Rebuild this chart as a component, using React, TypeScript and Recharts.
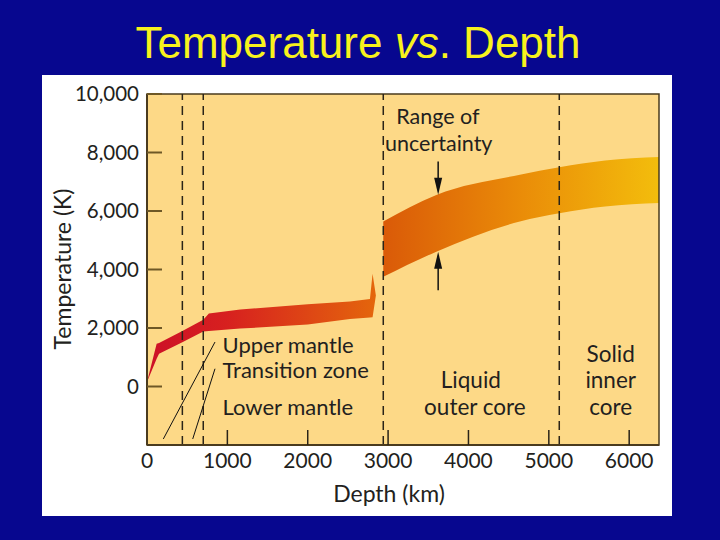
import {
  ComposedChart, Area, XAxis, YAxis, CartesianGrid, ReferenceLine, ReferenceDot, ReferenceArea,
} from 'recharts';

// depth in km, temperature in K
const depthTicks = [0, 1000, 2000, 3000, 4000, 5000, 6000];
const tempTicks = [0, 2000, 4000, 6000, 8000, 10000];

const mantleDepth = [0, 120, 150, 440, 700, 770, 1160, 2000, 2525, 2774, 2807, 2848];
const mantleLow = [150, 950, 1120, 1510, 1880, 1900, 1980, 2120, 2310, 2360, 2367, 3111];
const mantleHigh = [150, 1465, 1490, 1900, 2280, 2500, 2630, 2815, 2910, 2995, 3853, 3111];

const coreDepth = [2940, 3600, 4640, 5130, 5700, 6371];
const coreLow = [3750, 4610, 5640, 5920, 6150, 6270];
const coreHigh = [5640, 6550, 7240, 7500, 7730, 7850];

// layer boundaries (dashed)
const boundaries = [440, 700, 2940, 5130];

const notes = [
  { text: 'Range of', depth: 3620, temp: 9230, anchor: 'center', size: 21.5 },
  { text: 'uncertainty', depth: 3630, temp: 8300, anchor: 'center', size: 21.5 },
  { text: 'Upper mantle', depth: 940, temp: 1420, anchor: 'right', size: 22 },
  { text: 'Transition zone', depth: 940, temp: 560, anchor: 'right', size: 22 },
  { text: 'Lower mantle', depth: 940, temp: -720, anchor: 'right', size: 22 },
  { text: 'Liquid', depth: 4030, temp: 210, anchor: 'center', size: 22.5 },
  { text: 'outer core', depth: 4080, temp: -710, anchor: 'center', size: 22.5 },
  { text: 'Solid', depth: 5770, temp: 1120, anchor: 'center', size: 22.5 },
  { text: 'inner', depth: 5770, temp: 210, anchor: 'center', size: 22.5 },
  { text: 'core', depth: 5770, temp: -710, anchor: 'center', size: 22.5 },
];

const arrows = [
  [{ x: 3623, y: 7695 }, { x: 3623, y: 6552 }],
  [{ x: 3623, y: 3293 }, { x: 3623, y: 4607 }],
];

const leaders = [
  [{ x: 203, y: -1794 }, { x: 846, y: 1520 }],
  [{ x: 569, y: -1794 }, { x: 846, y: 607 }],
];

const data = [
  ...mantleDepth.map((d, i) => ({ depth: d, mantle: [mantleLow[i], mantleHigh[i]], core: null })),
  ...coreDepth.map((d, i) => ({ depth: d, mantle: null, core: [coreLow[i], coreHigh[i]] })),
];

const ink = '#231F20';
const frame = '#4a3b1e';
const font = 'Lato, "Open Sans", sans-serif';

const arrowShape = (p: any) => {
  const { x1, y1, x2, y2 } = p;
  const dir = y2 > y1 ? 1 : -1;
  return (
    <g>
      <line x1={x1} y1={y1} x2={x2} y2={y2 - dir * 10} stroke="#111" strokeWidth={1.5} />
      <polygon points={`${x2},${y2} ${x2 - 4},${y2 - dir * 17} ${x2 + 4},${y2 - dir * 17}`} fill="#111" />
    </g>
  );
};

export default function App() {
  return (
    <div style={{ position: 'absolute', left: 0, top: 0, width: 720, height: 540, background: '#07078f', overflow: 'hidden' }}>
      <div style={{ position: 'absolute', left: 42, top: 75, width: 630, height: 441, background: '#ffffff' }} />
      <div style={{ position: 'absolute', left: 0, top: 0 }}>
        <ComposedChart width={720} height={540} data={data} margin={{ top: 94, right: 61, bottom: 55, left: 67 }}>
          <defs>
            <linearGradient id="mantleFill" x1="0" y1="0" x2="1" y2="0">
              <stop offset="0%" stopColor="#cc1027" />
              <stop offset="35%" stopColor="#d7201f" />
              <stop offset="100%" stopColor="#e4660c" />
            </linearGradient>
            <linearGradient id="coreFill" x1="0" y1="0" x2="1" y2="0">
              <stop offset="0%" stopColor="#da5a08" />
              <stop offset="50%" stopColor="#ea8c08" />
              <stop offset="100%" stopColor="#f3bd0c" />
            </linearGradient>
          </defs>
          <CartesianGrid horizontal={false} vertical={false} fill="#fdd987" fillOpacity={1} />
          <XAxis
            dataKey="depth"
            type="number"
            domain={[0, 6371]}
            ticks={depthTicks}
            interval={0}
            allowDataOverflow
            height={40}
            tickSize={-15}
            tickMargin={23}
            axisLine={{ stroke: frame, strokeWidth: 2 }}
            tickLine={{ stroke: '#2a2418', strokeWidth: 1.5 }}
            tick={{ fill: ink, fontSize: 21, fontFamily: font }}
          />
          <YAxis
            type="number"
            domain={[-2000, 10000]}
            ticks={tempTicks}
            interval={0}
            allowDataOverflow
            width={80}
            tickSize={-15}
            tickMargin={23}
            tickFormatter={(v) => v.toLocaleString('en-US')}
            axisLine={{ stroke: frame, strokeWidth: 2 }}
            tickLine={{ stroke: '#6e5826', strokeWidth: 2 }}
            tick={{ fill: ink, fontSize: 20.5, fontFamily: font }}
          />
          <Area type="linear" dataKey="mantle" stroke="none" fill="url(#mantleFill)" fillOpacity={1} isAnimationActive={false} />
          <Area type="monotone" dataKey="core" stroke="none" fill="url(#coreFill)" fillOpacity={1} isAnimationActive={false} />
          <ReferenceArea x1={0} x2={6371} y1={-2000} y2={10000} fill="none" stroke={frame} strokeWidth={1.5} />
          {boundaries.map((b) => (
            <ReferenceLine key={b} x={b} stroke="#2a2418" strokeWidth={1.5} strokeDasharray="9 6" />
          ))}
          {leaders.map((seg, i) => (
            <ReferenceLine key={'l' + i} segment={seg} stroke="#111" strokeWidth={1} />
          ))}
          {arrows.map((seg, i) => (
            <ReferenceLine key={'a' + i} segment={seg} shape={arrowShape} />
          ))}
          {notes.map((n) => (
            <ReferenceDot
              key={n.text}
              x={n.depth}
              y={n.temp}
              r={0}
              fill="none"
              stroke="none"
              label={{ value: n.text, position: n.anchor, offset: 0, fill: ink, fontSize: n.size, fontFamily: font }}
            />
          ))}
          <text x={358} y={58} textAnchor="middle" fontFamily='"Liberation Sans", Arial, sans-serif' fontSize={44} fill="#f8f21c">
            Temperature <tspan fontStyle="italic">vs</tspan>. Depth
          </text>
          <text transform="translate(71,269) rotate(-90)" textAnchor="middle" fontFamily={font} fontSize={23} fill={ink}>
            Temperature (K)
          </text>
          <text x={389} y={502} textAnchor="middle" fontFamily={font} fontSize={23} fill={ink}>
            Depth (km)
          </text>
        </ComposedChart>
      </div>
    </div>
  );
}
